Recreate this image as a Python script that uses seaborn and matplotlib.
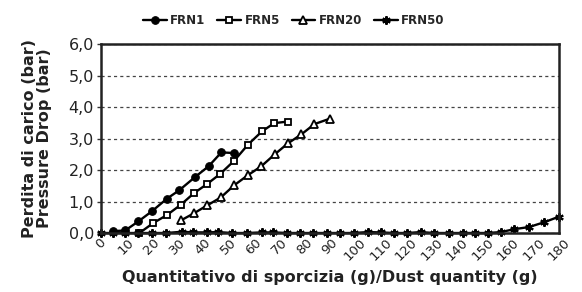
import matplotlib
matplotlib.use("Agg")
import matplotlib.pyplot as plt
import seaborn as sns
import pandas as pd

# ---- data ----
frn1_x = [4.6, 9.5, 14.7, 20.0, 25.9, 30.8, 37.0, 42.3, 47.3, 52.4]
frn1_y = [0.06, 0.08, 0.37, 0.69, 1.09, 1.36, 1.78, 2.12, 2.56, 2.54]

frn5_x = [15.1, 20.6, 25.9, 31.4, 36.6, 41.6, 46.9, 52.4, 57.8, 63.3, 68.1, 73.5]
frn5_y = [0.00, 0.32, 0.57, 0.90, 1.27, 1.55, 1.88, 2.30, 2.81, 3.23, 3.49, 3.54]

frn20_x = [31.4, 36.6, 41.8, 47.1, 52.4, 57.8, 63.0, 68.3, 73.5, 78.7, 83.9, 89.9]
frn20_y = [0.40, 0.63, 0.88, 1.13, 1.52, 1.84, 2.12, 2.50, 2.85, 3.13, 3.46, 3.63]

frn50_x = [0.0, 4.7, 9.5, 14.6, 20.0, 25.6, 31.8, 36.2, 41.6, 46.1, 51.5, 57.4,
           63.3, 67.7, 73.1, 78.4, 83.5, 88.9, 94.1, 99.3, 104.8, 109.9, 115.0,
           120.4, 125.6, 130.8, 136.7, 142.1, 146.9, 151.9, 157.2, 162.3, 168.2,
           174.1, 180.0]
frn50_y = [0.0, 0.0, 0.0, 0.0, 0.0, 0.0, 0.04, 0.02, 0.02, 0.03, 0.0, 0.0,
           0.02, 0.02, 0.0, 0.0, 0.0, 0.0, 0.0, 0.0, 0.03, 0.02, 0.0,
           0.0, 0.03, 0.0, 0.0, 0.0, 0.0, 0.0, 0.03, 0.12, 0.19,
           0.34, 0.52]

series_names = ["FRN1", "FRN5", "FRN20", "FRN50"]
x_ticks = list(range(0, 181, 10))
y_ticks = [0, 1, 2, 3, 4, 5, 6]
y_tick_labels = ["0,0", "1,0", "2,0", "3,0", "4,0", "5,0", "6,0"]
x_title = "Quantitativo di sporcizia (g)/Dust quantity (g)"
y_title = "Perdita di carico (bar)\nPressure Drop (bar)"

frames = []
for name, xs, ys in [("FRN1", frn1_x, frn1_y), ("FRN5", frn5_x, frn5_y),
                     ("FRN20", frn20_x, frn20_y), ("FRN50", frn50_x, frn50_y)]:
    frames.append(pd.DataFrame({"x": xs, "y": ys, "serie": name}))
df = pd.concat(frames, ignore_index=True)

sns.set_theme(style="white")
plt.rcParams["font.family"] = ["DejaVu Sans"]

fig = plt.figure(figsize=(5.82, 2.92), dpi=100)
ax = fig.add_axes([0.1735, 0.202, 0.787, 0.647])

styles = {
    "FRN1": dict(marker="o", markersize=5.5, markerfacecolor="black", markeredgecolor="black"),
    "FRN5": dict(marker="s", markersize=5, markerfacecolor="white", markeredgecolor="black", markeredgewidth=1.3),
    "FRN20": dict(marker="^", markersize=6, markerfacecolor="white", markeredgecolor="black", markeredgewidth=1.3),
    "FRN50": dict(marker=(6, 2, 0), markersize=6, markeredgecolor="black", markeredgewidth=1.5),
}
for name in series_names:
    sub = df[df["serie"] == name]
    sns.lineplot(data=sub, x="x", y="y", ax=ax, color="black", linewidth=1.7,
                 sort=False, estimator=None, label=name, clip_on=False, **styles[name])

ax.set_xlim(0, 180)
ax.set_ylim(0, 6)
ax.set_xticks(x_ticks)
ax.set_xticklabels([str(v) for v in x_ticks], rotation=45, ha="center", fontsize=9.5)
ax.set_yticks(y_ticks)
ax.set_yticklabels(y_tick_labels, fontsize=11.5, color="#222222")
ax.tick_params(axis="x", length=0, pad=2, labelcolor="#222222")
ax.tick_params(axis="y", length=3, width=1, direction="out", color="#333333", pad=2, left=True)
for s in ax.spines.values():
    s.set_color("#222222")
    s.set_linewidth(1.8)
ax.yaxis.grid(True, linestyle=(0, (2.5, 2.5)), color="#444444", linewidth=0.9)
ax.xaxis.grid(False)
ax.set_axisbelow(True)

ax.set_xlabel(x_title, fontsize=11.5, fontweight="bold", labelpad=5, color="#222222")
ax.set_ylabel(y_title, fontsize=11.5, fontweight="bold", labelpad=12, linespacing=0.95,
              color="#222222")

handles, labels = ax.get_legend_handles_labels()
ax.legend_.remove()
fig.legend(handles, labels, loc="center", bbox_to_anchor=(0.505, 0.93), ncol=4,
           frameon=False, prop=dict(size=8.5, weight="bold"), handlelength=2.0,
           handletextpad=0.3, columnspacing=1.0, borderaxespad=0)

fig.savefig("out.png", dpi=100)
